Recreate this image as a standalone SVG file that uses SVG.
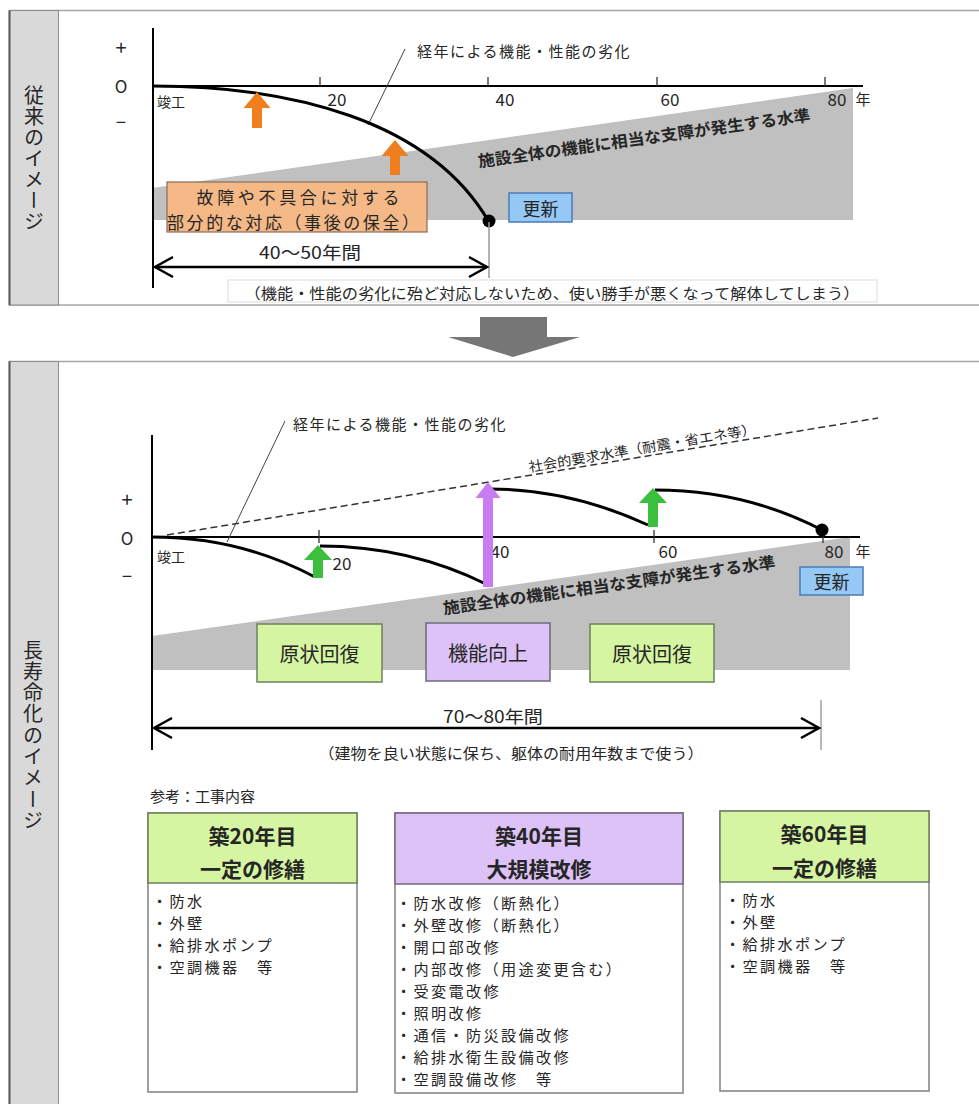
<svg xmlns="http://www.w3.org/2000/svg" width="979" height="1104" viewBox="0 0 979 1104">
<defs>
<style>
text{font-family:"Noto Sans CJK JP","Noto Sans",sans-serif;fill:#262626}
.c{text-anchor:middle;dominant-baseline:central}
.l{dominant-baseline:central}
.axis{stroke:#000;stroke-width:2;fill:none}
.tick{stroke:#333;stroke-width:1.3}
.curve{stroke:#000;stroke-width:3;fill:none}
.band{fill:#c0c0c0}
.dim{stroke:#000;stroke-width:2.5;fill:none}
.thin{stroke:#444;stroke-width:1;fill:none}
.green{fill:#3cbf3c}
.orange{fill:#f07d1e}
.purple{fill:#c87cf0}
.panel{fill:#fff;stroke:#a6a6a6;stroke-width:1.5}
.side{fill:#d9d9d9;stroke:#8c8c8c;stroke-width:1}
.gbox{fill:#d6f5a3;stroke:#6f7f60;stroke-width:1.5}
.pbox{fill:#ddc2f7;stroke:#6f6a7a;stroke-width:1.5}
.body{fill:#fff;stroke:#808080;stroke-width:1.5}
.hd{font-size:21px;font-weight:bold}
.it{font-size:15.2px;letter-spacing:2.3px}
</style>
</defs>

<!-- Top panel -->
<g id="panel-top">
<rect class="panel" x="9.5" y="10.5" width="975" height="294.5"/>
<rect class="side" x="9.5" y="10.5" width="49" height="294.5"/>
<line x1="9.5" y1="10.5" x2="9.5" y2="305" stroke="#595959" stroke-width="2"/>
<text x="34" y="85" font-size="20" letter-spacing="1" style="writing-mode:vertical-rl">従来のイメージ</text>
</g>

<g id="top-chart">
<polygon class="band" points="152,188 853,88 853,220 152,220"/>
<line class="axis" x1="153" y1="28" x2="153" y2="288"/>
<line class="axis" x1="153" y1="86" x2="863" y2="86" stroke-width="2.5"/>
<line class="tick" x1="320" y1="77" x2="320" y2="86"/>
<line class="tick" x1="488" y1="77" x2="488" y2="86"/>
<line class="tick" x1="657" y1="77" x2="657" y2="86"/>
<line class="tick" x1="825" y1="77" x2="825" y2="86"/>
<text class="c" x="121" y="46" font-size="20">+</text>
<text class="c" x="121" y="85" font-size="17">O</text>
<text class="c" x="121" y="121" font-size="18">−</text>
<text class="l" x="157" y="101" font-size="14">竣工</text>
<text class="c" x="337" y="98" font-size="17">20</text>
<text class="c" x="505" y="98" font-size="17">40</text>
<text class="c" x="670" y="98" font-size="17">60</text>
<text class="c" x="837" y="98" font-size="17">80</text>
<text class="c" x="863" y="98" font-size="15">年</text>
<text class="c" transform="translate(644,137) rotate(-8)" font-size="16" font-weight="bold" textLength="335" lengthAdjust="spacingAndGlyphs">施設全体の機能に相当な支障が発生する水準</text>
<line class="thin" x1="368" y1="125" x2="405" y2="49"/>
<text class="l" x="417" y="50" font-size="15" letter-spacing="1.5">経年による機能・性能の劣化</text>
<path class="curve" d="M153,86 C290,86 430,120 489,222"/>
<circle cx="489" cy="221" r="6.5" fill="#000"/>
<polygon class="orange" points="257,92 270.5,108 262,108 262,128 252,128 252,108 243.5,108"/>
<polygon class="orange" points="395,140 408.5,156 400,156 400,175 390,175 390,156 381.5,156"/>
<line x1="489" y1="222" x2="489" y2="278" stroke="#999" stroke-width="1.5"/>
</g>

<g id="top-partial">
<rect x="167" y="182" width="260" height="50" fill="#f5b887" stroke="#8a6a55" stroke-width="1.2"/>
<text class="c" x="298" y="196" font-size="17" textLength="203" lengthAdjust="spacing">故障や不具合に対する</text>
<text class="c" x="293" y="221" font-size="17" textLength="252" lengthAdjust="spacing">部分的な対応（事後の保全）</text>
</g>

<g id="top-renew">
<rect x="509" y="193" width="63" height="29" fill="#95c8f5" stroke="#4a7bb5" stroke-width="1.5"/>
<text class="c" x="540.5" y="208" font-size="18">更新</text>
</g>

<g id="top-dim">
<line class="dim" x1="155" y1="267" x2="487" y2="267"/>
<polyline class="dim" points="173,257 155,267 173,277"/>
<polyline class="dim" points="469,257 487,267 469,277"/>
<text class="c" x="310" y="251" font-size="17" textLength="102" lengthAdjust="spacingAndGlyphs">40～50年間</text>
<rect x="228" y="280" width="649" height="22" fill="#fff" stroke="#dcdcdc" stroke-width="1"/>
<text class="c" x="552" y="292" font-size="15" textLength="615" lengthAdjust="spacingAndGlyphs">（機能・性能の劣化に殆ど対応しないため、使い勝手が悪くなって解体してしまう）</text>
</g>

<!-- Down arrow -->
<g id="down-arrow">
<polygon points="480,317 547,317 547,337 580,337 513,357 448,337 480,337" fill="#767676"/>
</g>

<!-- Bottom panel -->
<g id="panel-bottom">
<rect class="panel" x="9.5" y="361.5" width="975" height="760"/>
<rect class="side" x="9.5" y="361.5" width="49" height="760"/>
<line x1="9.5" y1="361.5" x2="9.5" y2="1104" stroke="#595959" stroke-width="2"/>
<text x="33" y="640" font-size="20" letter-spacing="1.3" style="writing-mode:vertical-rl">長寿命化のイメージ</text>
</g>

<g id="bottom-chart">
<polygon class="band" points="152,636 850,537 850,670 152,670"/>
<text class="c" transform="translate(609,584) rotate(-8)" font-size="16" font-weight="bold" textLength="335" lengthAdjust="spacingAndGlyphs">施設全体の機能に相当な支障が発生する水準</text>
<line class="axis" x1="152" y1="435" x2="152" y2="750"/>
<line class="axis" x1="152" y1="537" x2="860" y2="537"/>
<line class="tick" x1="319" y1="530" x2="319" y2="543"/>
<line class="tick" x1="487" y1="530" x2="487" y2="543"/>
<line class="tick" x1="654" y1="530" x2="654" y2="543"/>
<line class="tick" x1="823" y1="530" x2="823" y2="543"/>
<text class="c" x="127" y="498" font-size="20">+</text>
<text class="c" x="127" y="537" font-size="17">O</text>
<text class="c" x="127" y="575" font-size="18">−</text>
<text class="l" x="157" y="556" font-size="14">竣工</text>
<text class="c" x="342" y="562" font-size="17">20</text>
<text class="c" x="500" y="550" font-size="17">40</text>
<text class="c" x="668" y="550" font-size="17">60</text>
<text class="c" x="834" y="550" font-size="17">80</text>
<text class="c" x="863" y="550" font-size="15">年</text>
<line x1="167" y1="535" x2="878" y2="418" stroke="#333" stroke-width="1.5" stroke-dasharray="7,4"/>
<text class="c" transform="translate(642,447) rotate(-9.5)" font-size="13.5" textLength="230" lengthAdjust="spacingAndGlyphs">社会的要求水準（耐震・省エネ等）</text>
<line class="thin" x1="285" y1="421" x2="227" y2="542"/>
<text class="l" x="293" y="423" font-size="15" letter-spacing="1.5">経年による機能・性能の劣化</text>
<path class="curve" d="M152,537 Q240,537 315,577"/>
<path class="curve" d="M320,546 Q410,546 488,585"/>
<path class="curve" d="M490,489 Q570,489 648,525"/>
<path class="curve" d="M655,490 Q745,490 822,530"/>
<circle cx="822" cy="530" r="6.5" fill="#000"/>
<polygon class="green" points="318,545 332,560 323,560 323,578 313,578 313,560 304,560"/>
<polygon class="green" points="653,488 667,503 658,503 658,527 648,527 648,503 639,503"/>
<polygon class="purple" points="488,482 500.5,498 493,498 493,587 483,587 483,498 475.5,498"/>
</g>

<g id="bottom-renew">
<rect x="800" y="567" width="63" height="28" fill="#95c8f5" stroke="#4a7bb5" stroke-width="1.5"/>
<text class="c" x="831.5" y="581" font-size="18">更新</text>
</g>

<g id="restore-1">
<rect class="gbox" x="257" y="624" width="125" height="58"/>
<text class="c" x="319.5" y="653" font-size="20">原状回復</text>
</g>
<g id="improve">
<rect class="pbox" x="426" y="623" width="124" height="58"/>
<text class="c" x="488" y="652" font-size="20">機能向上</text>
</g>
<g id="restore-2">
<rect class="gbox" x="590" y="624" width="124" height="58"/>
<text class="c" x="652" y="653" font-size="20">原状回復</text>
</g>

<g id="bottom-dim">
<line x1="821" y1="700" x2="821" y2="750" stroke="#888" stroke-width="1.2"/>
<line class="dim" x1="154" y1="728" x2="819" y2="728"/>
<polyline class="dim" points="172,718 154,728 172,738"/>
<polyline class="dim" points="801,718 819,728 801,738"/>
<text class="c" x="493" y="715" font-size="17" textLength="100" lengthAdjust="spacingAndGlyphs">70～80年間</text>
<text class="c" x="511" y="752" font-size="15" textLength="385" lengthAdjust="spacingAndGlyphs">（建物を良い状態に保ち、躯体の耐用年数まで使う）</text>
<text class="l" x="150" y="795" font-size="15">参考：工事内容</text>
</g>

<g id="work-20">
<rect class="body" x="148" y="813" width="209" height="279"/>
<rect class="gbox" x="148" y="813" width="209" height="70"/>
<text class="c hd" x="252.5" y="835">築20年目</text>
<text class="c hd" x="252.5" y="868">一定の修繕</text>
<text class="l it" x="152" y="900">・防水</text>
<text class="l it" x="152" y="922">・外壁</text>
<text class="l it" x="152" y="944">・給排水ポンプ</text>
<text class="l it" x="152" y="966">・空調機器　等</text>
</g>

<g id="work-40">
<rect class="body" x="395" y="813" width="288" height="280"/>
<rect class="pbox" x="395" y="813" width="288" height="71"/>
<text class="c hd" x="539" y="835">築40年目</text>
<text class="c hd" x="539" y="868">大規模改修</text>
<text class="l it" x="396" y="902">・防水改修（断熱化）</text>
<text class="l it" x="396" y="924">・外壁改修（断熱化）</text>
<text class="l it" x="396" y="946">・開口部改修</text>
<text class="l it" x="396" y="968">・内部改修（用途変更含む）</text>
<text class="l it" x="396" y="990">・受変電改修</text>
<text class="l it" x="396" y="1012">・照明改修</text>
<text class="l it" x="396" y="1034">・通信・防災設備改修</text>
<text class="l it" x="396" y="1056">・給排水衛生設備改修</text>
<text class="l it" x="396" y="1078">・空調設備改修　等</text>
</g>

<g id="work-60">
<rect class="body" x="720" y="811" width="209" height="280"/>
<rect class="gbox" x="720" y="811" width="209" height="71"/>
<text class="c hd" x="824.5" y="833">築60年目</text>
<text class="c hd" x="824.5" y="867">一定の修繕</text>
<text class="l it" x="725" y="899">・防水</text>
<text class="l it" x="725" y="921">・外壁</text>
<text class="l it" x="725" y="943">・給排水ポンプ</text>
<text class="l it" x="725" y="965">・空調機器　等</text>
</g>
</svg>
